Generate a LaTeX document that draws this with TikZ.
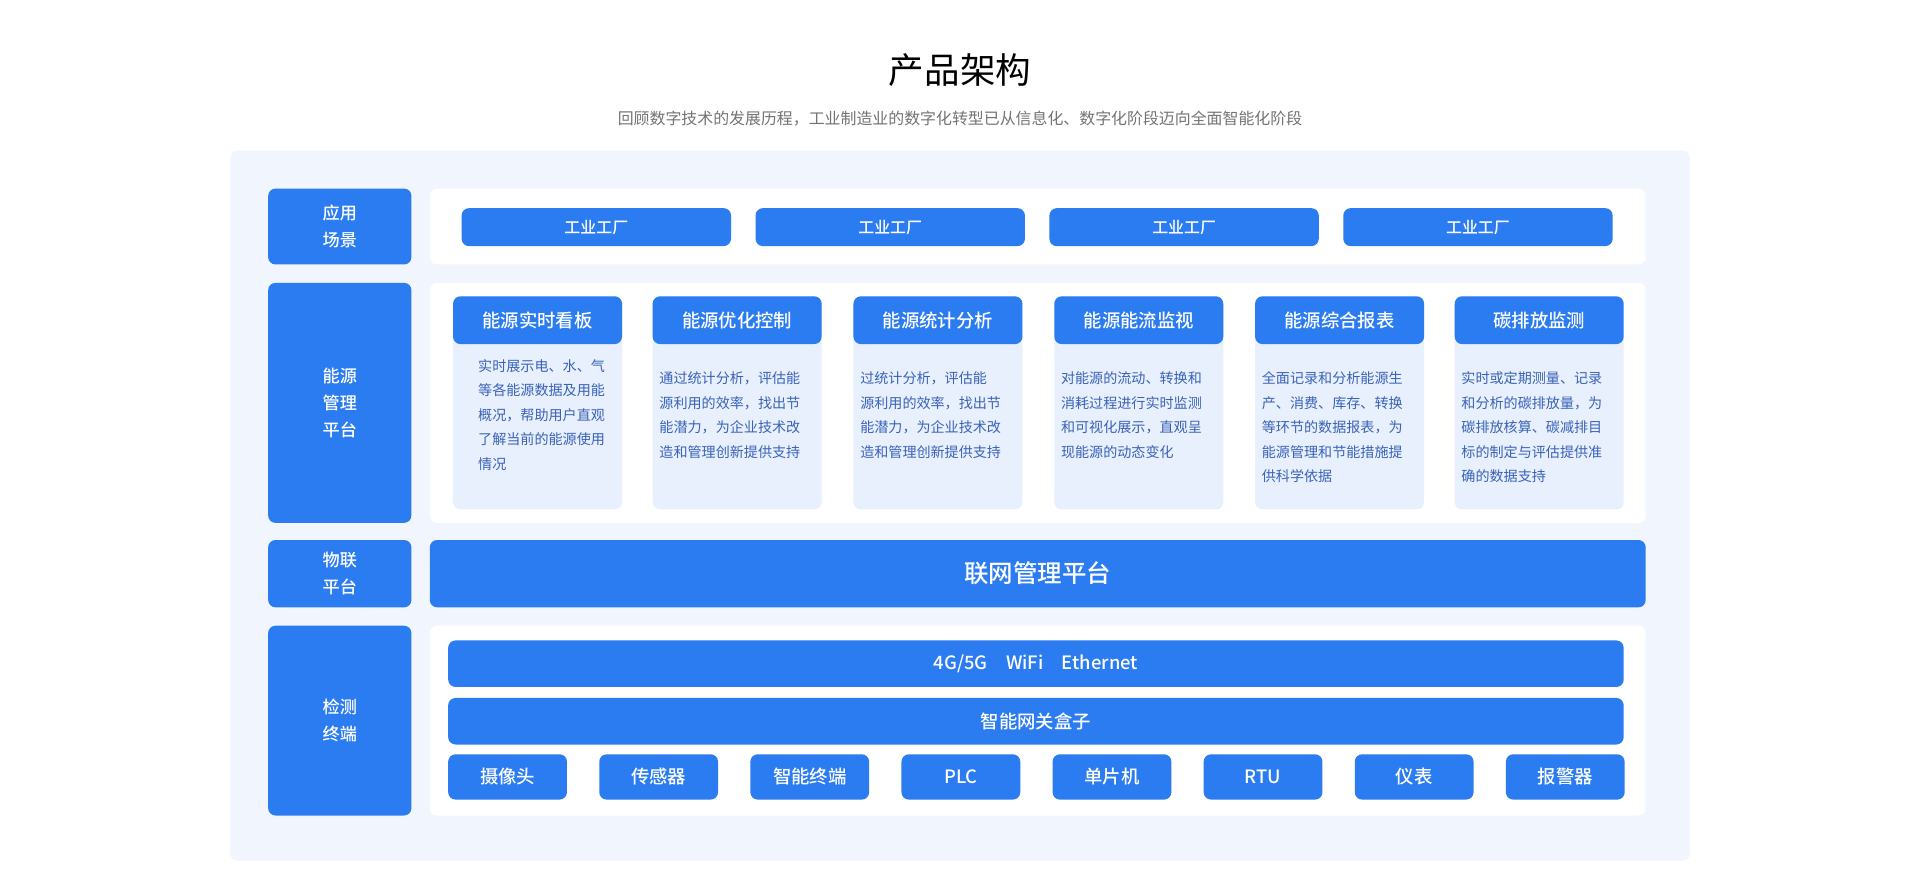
\documentclass[tikz,border=0pt]{standalone}
\usepackage{fontspec}
\setmainfont{Noto Sans CJK SC}
\newfontfamily\medfont{Noto Sans CJK SC Medium}
\definecolor{mainblue}{HTML}{2B7CF0}
\definecolor{panelbg}{HTML}{F1F5FD}
\definecolor{cardbg}{HTML}{E8F0FD}
\definecolor{bodytext}{HTML}{3A63B8}
\begin{document}
\begin{tikzpicture}[x=1pt,y=-1pt,
    bluebox/.style={fill=mainblue,rounded corners=6pt,text=white},
    whitebox/.style={fill=white,rounded corners=6pt},
    sidelabel/.style={text=white,font=\medfont\fontsize{14}{22}\selectfont,align=center},
    cardtext/.style={text=bodytext,font=\fontsize{11.5}{20}\selectfont,align=left,anchor=north west}]
  \useasboundingbox (0,0) rectangle (1568,728);
  \node (title) at (784,57) {\fontsize{29}{34}\selectfont 产品架构};
  \node[text=black!55] (subtitle) at (784,97) {\fontsize{13}{16}\selectfont 回顾数字技术的发展历程，工业制造业的数字化转型已从信息化、数字化阶段迈向全面智能化阶段};
  \fill[panelbg,rounded corners=6pt] (188,123) rectangle (1380,703);

  % left column
  \fill[bluebox] (219,154) rectangle (336,216);
  \node[sidelabel] (lab1) at (277.5,185) {应用\\场景};
  \fill[bluebox] (219,231) rectangle (336,427);
  \node[sidelabel] (lab2) at (277.5,329) {能源\\管理\\平台};
  \fill[bluebox] (219,441) rectangle (336,496);
  \node[sidelabel] (lab3) at (277.5,468.5) {物联\\平台};
  \fill[bluebox] (219,511) rectangle (336,666);
  \node[sidelabel] (lab4) at (277.5,588.5) {检测\\终端};

  % scenes
  \fill[whitebox] (351,154) rectangle (1344,216);
  \foreach \x in {377,617,857,1097}{
      \fill[bluebox] (\x,170) rectangle (\x+220,201);
      \node[text=white,font=\medfont\fontsize{13}{16}\selectfont] at (\x+110,185.5) {工业工厂};
  }

  % energy platform
  \fill[whitebox] (351,231) rectangle (1344,427);
  \foreach \x/\head in {370/能源实时看板,533/能源优化控制,697/能源统计分析,
      861/能源能流监视,1025/能源综合报表,1188/碳排放监测}{
      \fill[cardbg,rounded corners=6pt] (\x,242) rectangle (\x+138,416);
      \fill[bluebox] (\x,242) rectangle (\x+138,281);
      \node[text=white,font=\medfont\fontsize{15}{18}\selectfont] at (\x+69,261.5) {\head};
  }
  \node[cardtext] (d1) at (387,290) {实时展示电、水、气\\等各能源数据及用能\\概况，帮助用户直观\\了解当前的能源使用\\情况};
  \node[cardtext] (d2) at (535,300) {通过统计分析，评估能\\源利用的效率，找出节\\能潜力，为企业技术改\\造和管理创新提供支持};
  \node[cardtext] (d3) at (699,300) {过统计分析，评估能\\源利用的效率，找出节\\能潜力，为企业技术改\\造和管理创新提供支持};
  \node[cardtext] (d4) at (863,300) {对能源的流动、转换和\\消耗过程进行实时监测\\和可视化展示，直观呈\\现能源的动态变化};
  \node[cardtext] (d5) at (1027,300) {全面记录和分析能源生\\产、消费、库存、转换\\等环节的数据报表，为\\能源管理和节能措施提\\供科学依据};
  \node[cardtext] (d6) at (1190,300) {实时或定期测量、记录\\和分析的碳排放量，为\\碳排放核算、碳减排目\\标的制定与评估提供准\\确的数据支持};

  % iot platform
  \fill[bluebox] (351,441) rectangle (1344,496);
  \node[text=white,font=\medfont\fontsize{20}{24}\selectfont] (iot) at (847.5,468.5) {联网管理平台};

  % terminals
  \fill[whitebox] (351,511) rectangle (1344,666);
  \fill[bluebox] (366,523) rectangle (1326,561);
  \node[text=white,font=\medfont\fontsize{15}{18}\selectfont] (net) at (846,542) {4G/5G\quad WiFi\quad Ethernet};
  \fill[bluebox] (366,570) rectangle (1326,608);
  \node[text=white,font=\medfont\fontsize{15}{18}\selectfont] (gw) at (846,589) {智能网关盒子};
  \foreach \i/\name in {0/摄像头,1/传感器,2/智能终端,3/PLC,4/单片机,5/RTU,6/仪表,7/报警器}{
      \pgfmathsetmacro{\xa}{366+123.4*\i}
      \fill[bluebox] (\xa,616) rectangle (\xa+97,653);
      \node[text=white,font=\medfont\fontsize{15}{18}\selectfont] at (\xa+48.5,634.5) {\name};
  }
\end{tikzpicture}
\end{document}
